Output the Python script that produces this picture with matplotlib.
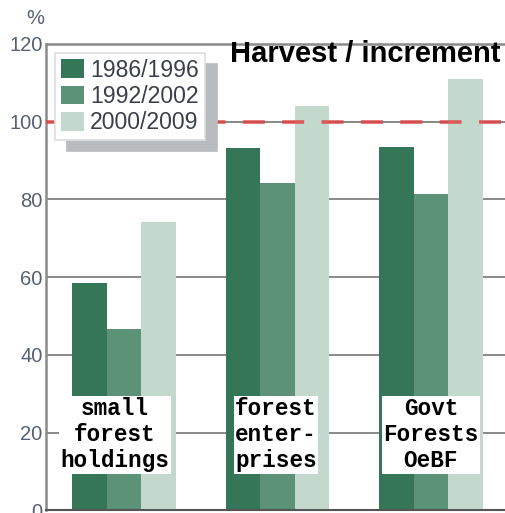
import numpy as np
import matplotlib.pyplot as plt

# Harvest / increment ratio (%) by owner category and inventory period
categories = ['small\nforest\nholdings', 'forest\nenter-\nprises', 'Govt\nForests\nOeBF']
periods = ['1986/1996', '1992/2002', '2000/2009']
v_1986_1996 = [58.6, 93.1, 93.5]
v_1992_2002 = [46.6, 84.1, 81.4]
v_2000_2009 = [74.2, 103.9, 111.0]
y_ticks = [0, 20, 40, 60, 80, 100, 120]

colors = ['#357558', '#5c9277', '#c4d9ce']
series = [v_1986_1996, v_1992_2002, v_2000_2009]

plt.rcParams['font.family'] = ['Liberation Sans', 'DejaVu Sans']

fig = plt.figure(figsize=(5.05, 5.13), dpi=100)
W, H = 505, 513
ax = fig.add_axes([46 / W, 2.6 / H, (W - 46) / W, 466.5 / H])

x = np.arange(len(categories))
w = 0.225
for i, (vals, col, lab) in enumerate(zip(series, colors, periods)):
    ax.bar(x + (i - 1) * w, vals, width=w, color=col, label=lab, zorder=2)

ax.set_xlim(-0.508, 2.483)
ax.set_ylim(0, 120)
ax.set_yticks(y_ticks)
ax.set_xticks([])
ax.tick_params(axis='y', length=0, pad=2.5, labelsize=14.5, labelcolor='#566176')
ax.grid(axis='y', color='#6a6a6a', linewidth=1.1, zorder=1)

# reference line at 100 %
ax.axhline(100, color='#dc4444', linewidth=2.6, dashes=(6.1, 4.8), alpha=0.85, zorder=3)

for s in ['left', 'top']:
    ax.spines[s].set_color('#8a8a8a')
    ax.spines[s].set_linewidth(1.8)
ax.spines['bottom'].set_color('#555555')
ax.spines['bottom'].set_linewidth(1.5)
ax.spines['right'].set_visible(False)

# category labels in white boxes
label_dx = [-0.06, -0.01, 0.0]
for xi, name, dx in zip(x, categories, label_dx):
    ax.text(xi + dx, 19.5, name, ha='center', va='center', fontsize=16.3,
            family='Liberation Mono', fontweight='bold', color='black',
            linespacing=1.17, zorder=4,
            bbox=dict(facecolor='white', edgecolor='none', pad=1.0))

leg = ax.legend(loc='upper left', bbox_to_anchor=(55 / W, 1 - 53 / H),
                bbox_transform=fig.transFigure, borderaxespad=0,
                fontsize=16.6, handlelength=1.0, handleheight=0.87,
                handletextpad=0.28, labelspacing=0.14, borderpad=0.25,
                fancybox=False, framealpha=1, edgecolor='#dddddd',
                labelcolor='#3a3f4a',
                shadow={'ox': 8.6, 'oy': -8.0, 'color': '#b8bcbf', 'alpha': 1})
leg.get_frame().set_linewidth(1.2)
leg.set_zorder(5)

fig.text(35 / W, 1 - 18 / H, '%', ha='center', va='center', fontsize=14.5,
         color='#566176')
fig.text(500 / W, 1 - 62 / H, 'Harvest / increment', ha='right', va='baseline',
         fontsize=21, fontweight='bold', color='black')

fig.savefig('out.png', dpi=100)
